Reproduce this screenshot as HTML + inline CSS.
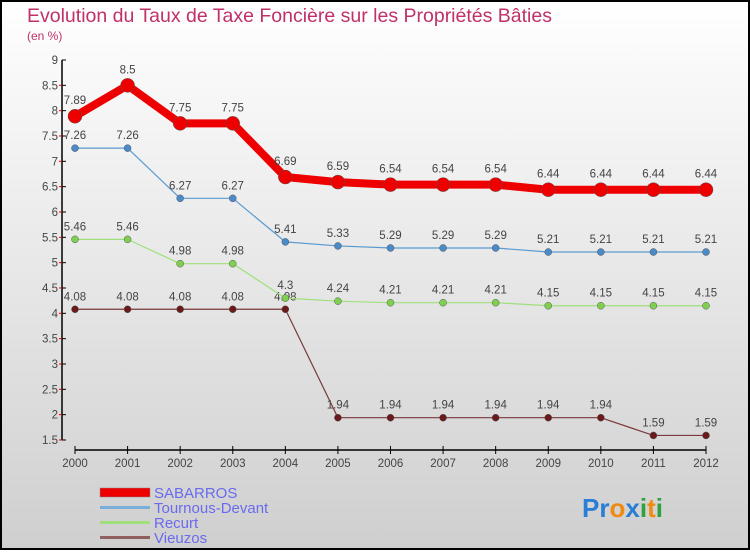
<!DOCTYPE html>
<html><head><meta charset="utf-8"><style>
body{margin:0}
#c{width:750px;height:550px;position:relative;font-family:"Liberation Sans",sans-serif}
</style></head><body>
<div id="c">
<svg id="s" width="750" height="550" xmlns="http://www.w3.org/2000/svg">
<defs><linearGradient id="bg" x1="0" y1="0" x2="0" y2="1"><stop offset="0" stop-color="#ffffff"/><stop offset="1" stop-color="#cfcfcf"/></linearGradient></defs>
<rect x="1" y="1" width="748" height="548" fill="url(#bg)" stroke="#000" stroke-width="2"/>
<text x="27" y="22" font-size="19.5" fill="#c0306a">Evolution du Taux de Taxe Foncière sur les Propriétés Bâties</text>
<text x="27" y="40" font-size="12" fill="#c0306a">(en %)</text>
<g id="axes"></g><g id="plot"></g>
<g>
<rect x="100" y="488" width="50" height="9" fill="#e00" stroke="#888" stroke-width="0.5"/>
<text x="154" y="498" font-size="15" fill="#6a6af0">SABARROS</text>
<rect x="100" y="506" width="50" height="3" fill="#7aaed8"/>
<text x="154" y="513" font-size="15" fill="#6a6af0">Tournous-Devant</text>
<rect x="100" y="521" width="50" height="3" fill="#9fe07a"/>
<text x="154" y="528" font-size="15" fill="#6a6af0">Recurt</text>
<rect x="100" y="536" width="50" height="3" fill="#906060"/>
<text x="154" y="543" font-size="15" fill="#6a6af0">Vieuzos</text>
</g>
<g font-size="26" font-weight="bold">
<text x="582" y="517"><tspan fill="#2a7fd4">Pr</tspan><tspan fill="#f08a10">o</tspan><tspan fill="#2a7fd4">x</tspan><tspan fill="#30a040">i</tspan><tspan fill="#f08a10">t</tspan><tspan fill="#30a040">i</tspan></text>
</g>
</svg></div>
<script>
const years=[2000,2001,2002,2003,2004,2005,2006,2007,2008,2009,2010,2011,2012];
const sabarros=[7.89,8.5,7.75,7.75,6.69,6.59,6.54,6.54,6.54,6.44,6.44,6.44,6.44];
const tournous=[7.26,7.26,6.27,6.27,5.41,5.33,5.29,5.29,5.29,5.21,5.21,5.21,5.21];
const recurt=[5.46,5.46,4.98,4.98,4.3,4.24,4.21,4.21,4.21,4.15,4.15,4.15,4.15];
const vieuzos=[4.08,4.08,4.08,4.08,4.08,1.94,1.94,1.94,1.94,1.94,1.94,1.59,1.59];
const yTicks=[1.5,2,2.5,3,3.5,4,4.5,5,5.5,6,6.5,7,7.5,8,8.5,9];
const NS="http://www.w3.org/2000/svg";
const X=i=>75+i*(706-75)/12;
const Y=v=>60+(9-v)*(380/7.5);
function mk(t,a,p){const e=document.createElementNS(NS,t);for(const k in a)e.setAttribute(k,a[k]);p.appendChild(e);return e;}
const ax=document.getElementById('axes'),pl=document.getElementById('plot');
const ya=mk('line',{x1:62,y1:60,x2:62,y2:440,stroke:'#000','stroke-width':1.5},ax);


yTicks.forEach(v=>{const y=Y(v);
 mk('line',{x1:62,y1:y,x2:66,y2:y,stroke:'#000'},ax);
 const t=mk('text',{x:58,y:y+4,'font-size':11.5,fill:'#444','text-anchor':'end'},ax);t.textContent=v;
 
 
 if(v>1.5) mk('line',{x1:59,y1:y+25.3,x2:62,y2:y+25.3,stroke:'#e00'},ax);
});
const xa=mk('line',{x1:75,y1:450,x2:706,y2:450,stroke:'#000','stroke-width':1.5},ax);


years.forEach((yr,i)=>{mk('line',{x1:X(i),y1:446,x2:X(i),y2:454,stroke:'#000'},ax);
 const t=mk('text',{x:X(i),y:467,'font-size':11.5,fill:'#444','text-anchor':'middle'},ax);t.textContent=yr;
 
 
});
function series(d,name,col,w,r,dot,lab){
 const g=mk('g',{},pl);
 
 
 mk('polyline',{points:d.map((v,i)=>X(i)+','+Y(v)).join(' '),fill:'none',stroke:col,'stroke-width':w,'stroke-linejoin':'round'},g);
 d.forEach((v,i)=>{const c=mk('circle',{cx:X(i),cy:Y(v),r:r,fill:dot,stroke:'#555','stroke-width':0.5},g);
  
  
  const t=mk('text',{x:X(i),y:Y(v)-lab,'font-size':11.5,fill:'#444','text-anchor':'middle'},g);t.textContent=v;
  
  });
}
series(vieuzos,'vieuzos','#7a3a3a',1.2,3.5,'#6a1a1a',9);
series(recurt,'recurt','#9fe07a',1.2,3.5,'#80d050',9);
series(tournous,'tournous','#5a9ad0',1.2,3.5,'#4a8ac8',9);
series(sabarros,'sabarros','#e00',8,7,'#e00',12);
</script>
</body></html>
